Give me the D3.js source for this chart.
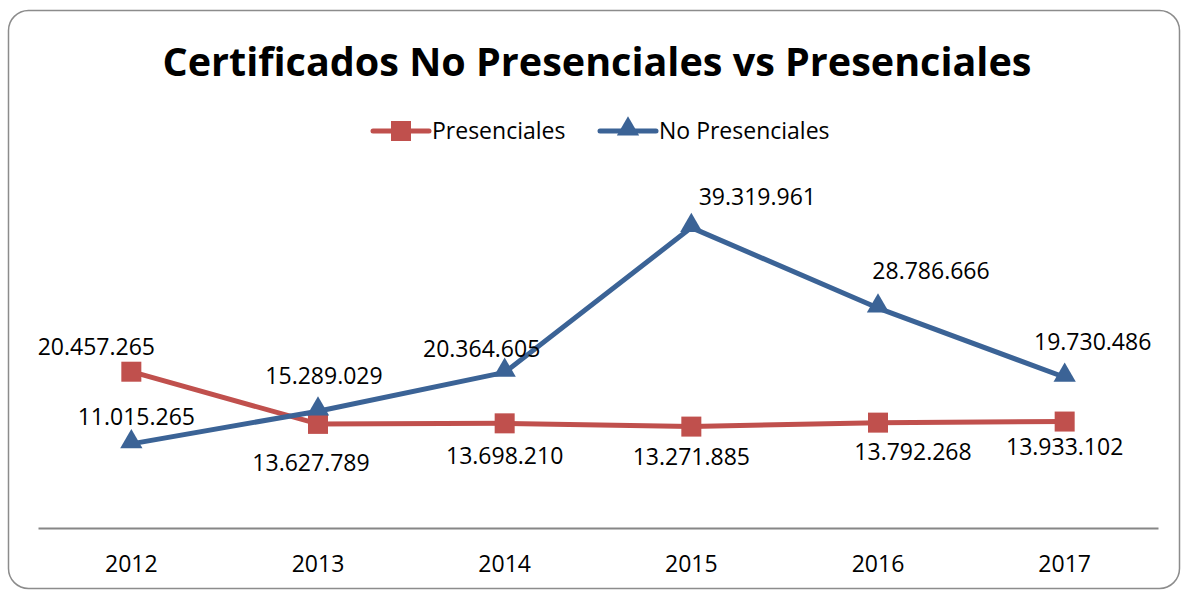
<!DOCTYPE html>
<html lang="es">
<head>
    <meta charset="UTF-8">
    <title>Certificados No Presenciales vs Presenciales</title>
    <script src="https://cdnjs.cloudflare.com/ajax/libs/d3/7.8.0/d3.min.js"></script>
    <style>
        body { margin: 0; background: #fff; }
        svg { display: block; font-family: "Open Sans", "Noto Sans", sans-serif; }
    </style>
</head>
<body>
    <svg id="viz" width="1182" height="590"></svg>

    <script>
        // data
        const years = ["2012", "2013", "2014", "2015", "2016", "2017"];
        const presenciales = [20457265, 13627789, 13698210, 13271885, 13792268, 13933102];
        const noPresenciales = [11015265, 15289029, 20364605, 39319961, 28786666, 19730486];
        const seriesNames = ["Presenciales", "No Presenciales"];

        // label offsets (dx, dy) from each point, px
        const offPres = [[-35, -25], [-7, 39], [0, 33], [0, 30], [35, 29], [0, 25]];
        const offNoPres = [[5, -27], [6, -35], [-23, -23], [66, -31], [53, -37], [28, -35]];

        const red = "#C0504D", blue = "#3B6396";
        const width = 1182, height = 590;
        const svg = d3.select("#viz");

        // outer rounded frame
        svg.append("rect")
            .attr("x", 8.5).attr("y", 10.5)
            .attr("width", 1171).attr("height", 578)
            .attr("rx", 20).attr("ry", 20)
            .attr("fill", "#fff").attr("stroke", "#8c8c8c").attr("stroke-width", 1.5);

        // title, fitted to width
        const title = svg.append("text")
            .attr("x", 597).attr("y", 76)
            .attr("text-anchor", "middle")
            .attr("font-weight", "bold")
            .attr("font-size", 38)
            .attr("fill", "#000")
            .text("Certificados No Presenciales vs Presenciales");
        let tw = title.node().getComputedTextLength();
        title.attr("font-size", 38 * 869 / tw);

        const x = d3.scaleBand().domain(years).range([38, 1158]);
        const y = d3.scaleLinear().domain([0, 50000000]).range([528, 146]);
        const cx = d => x(d) + x.bandwidth() / 2;

        // x axis
        const xAxis = svg.append("g")
            .attr("transform", "translate(0,528)")
            .call(d3.axisBottom(x).tickSize(0).tickPadding(28));
        xAxis.select(".domain").attr("stroke", "#868686").attr("stroke-width", 2);
        xAxis.selectAll("text")
            .attr("font-size", 23).attr("fill", "#000")
            .attr("font-family", "'Open Sans', sans-serif");

        const fmt = v => d3.format(",")(v).replace(/,/g, ".");
        const line = d3.line().x((d, i) => cx(years[i])).y(d => y(d));

        const tri = d3.symbol().type(d3.symbolTriangle).size(215);

        function drawSeries(vals, color, marker, offs) {
            svg.append("path")
                .datum(vals)
                .attr("d", line)
                .attr("fill", "none")
                .attr("stroke", color)
                .attr("stroke-width", 5)
                .attr("stroke-linejoin", "round");
            const g = svg.append("g");
            vals.forEach((v, i) => {
                const px = cx(years[i]), py = y(v);
                if (marker === "square") {
                    g.append("rect")
                        .attr("x", px - 10).attr("y", py - 10)
                        .attr("width", 20).attr("height", 20)
                        .attr("fill", color);
                } else {
                    g.append("path")
                        .attr("d", tri)
                        .attr("transform", "translate(" + px + "," + (py - 2) + ")")
                        .attr("fill", color);
                }
            });
            svg.append("g").selectAll("text")
                .data(vals)
                .join("text")
                .attr("x", (d, i) => cx(years[i]) + offs[i][0])
                .attr("y", (d, i) => y(d) + offs[i][1])
                .attr("dy", "0.35em")
                .attr("text-anchor", "middle")
                .attr("font-size", 23)
                .attr("fill", "#000")
                .text(fmt);
        }

        drawSeries(presenciales, red, "square", offPres);
        drawSeries(noPresenciales, blue, "triangle", offNoPres);

        // legend
        const legend = [
            { name: seriesNames[0], color: red, marker: "square", x0: 373 },
            { name: seriesNames[1], color: blue, marker: "triangle", x0: 600 }
        ];
        const ly = 131;
        legend.forEach(l => {
            svg.append("line")
                .attr("x1", l.x0).attr("x2", l.x0 + 56)
                .attr("y1", ly).attr("y2", ly)
                .attr("stroke", l.color).attr("stroke-width", 5)
                .attr("stroke-linecap", "round");
            if (l.marker === "square") {
                svg.append("rect")
                    .attr("x", l.x0 + 18).attr("y", ly - 10)
                    .attr("width", 20).attr("height", 20)
                    .attr("fill", l.color);
            } else {
                svg.append("path")
                    .attr("d", tri)
                    .attr("transform", "translate(" + (l.x0 + 28) + "," + (ly - 2) + ")")
                    .attr("fill", l.color);
            }
            svg.append("text")
                .attr("x", l.x0 + 59).attr("y", ly)
                .attr("dy", "0.35em")
                .attr("font-size", 23)
                .attr("fill", "#000")
                .text(l.name);
        });
    </script>
</body>
</html>
